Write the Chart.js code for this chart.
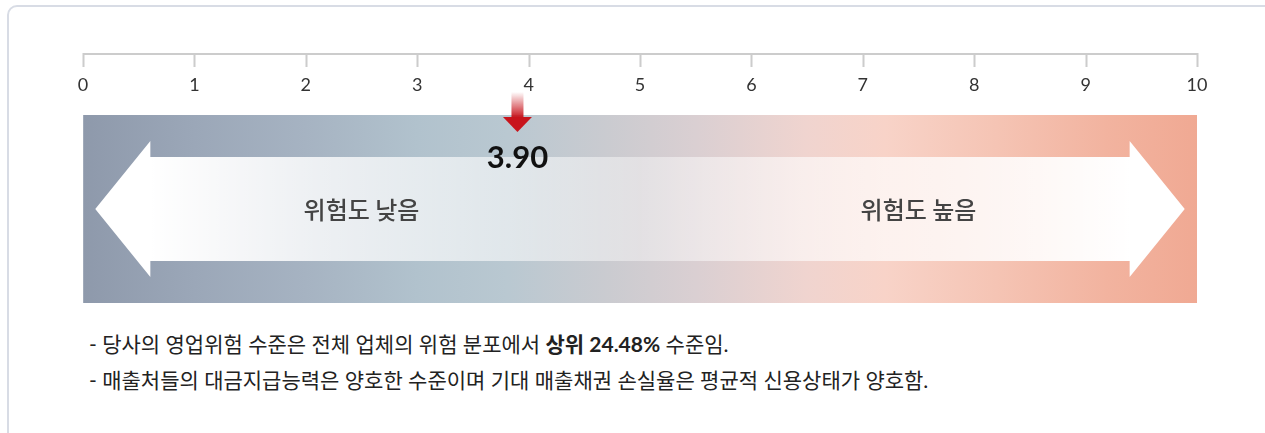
<!DOCTYPE html>
<html lang="ko">
<head>
<meta charset="UTF-8">
<title>위험도</title>
<script src="https://cdn.jsdelivr.net/npm/chart.js"></script>
<style>
    body { margin: 0; width: 1265px; height: 433px; overflow: hidden; background: #fff; position: relative; }
    .card {
        position: absolute; left: 7px; top: 5px; width: 1300px; height: 500px;
        border: 2px solid #d8dce5; border-radius: 10px; box-sizing: border-box;
    }
    .grafico { position: absolute; left: 0; top: 0; width: 1265px; height: 320px; }
    .notas {
        position: absolute; left: 89px; top: 326px; margin: 0; padding: 0; list-style: none;
        font-family: Lato, "Noto Sans CJK KR", sans-serif; font-size: 21px; color: #222;
        line-height: 36px;
    }
    .notas b { font-weight: 700; }
</style>
</head>
<body>
<div class="card"></div>
<div class="grafico"><canvas id="myCanvas" width="1265" height="320"></canvas></div>
<ul class="notas" id="notas"></ul>

<script>
    // dados do gráfico
    const tickValues = [0, 1, 2, 3, 4, 5, 6, 7, 8, 9, 10];
    const faixa = [0, 10];
    const score = 3.90;
    const rotulosLados = ['위험도 낮음', '위험도 높음'];
    const notas = [
        '- 당사의 영업위험 수준은 전체 업체의 위험 분포에서 <b>상위 24.48%</b> 수준임.',
        '- 매출처들의 대금지급능력은 양호한 수준이며 기대 매출채권 손실율은 평균적 신용상태가 양호함.'
    ];

    document.getElementById('notas').innerHTML = notas.map(n => '<li>' + n + '</li>').join('');

    function gradienteFaixa(context) {
        const area = context.chart.chartArea;
        if (!area) return '#c8ccd2';
        const g = context.chart.ctx.createLinearGradient(area.left, 0, area.right, 0);
        g.addColorStop(0, '#8e99ab');
        g.addColorStop(0.1, '#9ba7b8');
        g.addColorStop(0.2, '#a6b3c2');
        g.addColorStop(0.3, '#b1c2cd');
        g.addColorStop(0.38, '#b9c8d1');
        g.addColorStop(0.47, '#cacbd0');
        g.addColorStop(0.55, '#dacfd2');
        g.addColorStop(0.65, '#f0d4cf');
        g.addColorStop(0.72, '#f8d3c8');
        g.addColorStop(0.82, '#f5c4b4');
        g.addColorStop(0.92, '#f2b39f');
        g.addColorStop(1, '#f0a993');
        return g;
    }

    // setas, textos, marcador e linha do eixo
    const decoracao = {
        id: 'decoracao',
        afterDraw(chart) {
            const ctx = chart.ctx;
            const x = chart.scales.x;
            const area = chart.chartArea;
            const cy = (area.top + area.bottom) / 2;

            // linha do eixo com ticks
            ctx.save();
            ctx.strokeStyle = '#cccccc';
            ctx.lineWidth = 2;
            ctx.beginPath();
            ctx.moveTo(x.getPixelForValue(faixa[0]), 54);
            ctx.lineTo(x.getPixelForValue(faixa[1]), 54);
            tickValues.forEach(v => {
                const px = Math.round(x.getPixelForValue(v)) + 0.5;
                ctx.moveTo(px, 53);
                ctx.lineTo(px, 67);
            });
            ctx.stroke();

            // seta dupla
            const tipL = x.getPixelForValue(0.11), baseL = x.getPixelForValue(0.6);
            const baseR = x.getPixelForValue(9.4), tipR = x.getPixelForValue(9.89);
            const g = ctx.createLinearGradient(baseL, 0, baseR, 0);
            g.addColorStop(0, 'rgba(255,255,255,1)');
            g.addColorStop(0.05, 'rgba(255,255,255,0.95)');
            g.addColorStop(0.5, 'rgba(255,255,255,0.4)');
            g.addColorStop(0.95, 'rgba(255,255,255,0.95)');
            g.addColorStop(1, 'rgba(255,255,255,1)');
            ctx.fillStyle = g;
            ctx.fillRect(baseL, cy - 52, baseR - baseL, 104);
            ctx.fillStyle = '#ffffff';
            ctx.beginPath();
            ctx.moveTo(tipL, cy);
            ctx.lineTo(baseL + 0.5, cy - 68);
            ctx.lineTo(baseL + 0.5, cy + 68);
            ctx.closePath();
            ctx.moveTo(tipR, cy);
            ctx.lineTo(baseR - 0.5, cy - 68);
            ctx.lineTo(baseR - 0.5, cy + 68);
            ctx.closePath();
            ctx.fill();

            // textos das setas
            ctx.fillStyle = '#444444';
            ctx.font = '500 24px "Noto Sans CJK KR", sans-serif';
            ctx.textAlign = 'center';
            ctx.textBaseline = 'middle';
            ctx.fillText(rotulosLados[0], x.getPixelForValue(2.5), cy + 1);
            ctx.fillText(rotulosLados[1], x.getPixelForValue(7.5), cy + 1);

            // marcador do score
            const sx = x.getPixelForValue(score);
            const sg = ctx.createLinearGradient(0, 92, 0, 118);
            sg.addColorStop(0, 'rgba(200,20,28,0)');
            sg.addColorStop(1, 'rgba(200,20,28,1)');
            ctx.fillStyle = sg;
            ctx.fillRect(sx - 6, 92, 12, 26);
            ctx.fillStyle = '#c8141c';
            ctx.beginPath();
            ctx.moveTo(sx - 14.5, 117);
            ctx.lineTo(sx + 14.5, 117);
            ctx.lineTo(sx, 132);
            ctx.closePath();
            ctx.fill();

            ctx.fillStyle = '#111111';
            ctx.font = 'bold 31px Lato, sans-serif';
            ctx.fillText(score.toFixed(2), sx, 158);
            ctx.restore();
        }
    };

    const config = {
        type: 'bar',
        data: {
            labels: ['위험도'],
            datasets: [{
                data: [faixa],
                backgroundColor: gradienteFaixa,
                borderWidth: 0,
                borderSkipped: false,
                barPercentage: 1,
                categoryPercentage: 1
            }]
        },
        options: {
            indexAxis: 'y',
            responsive: false,
            animation: false,
            layout: { padding: { left: 83, right: 68, top: 0, bottom: 17 } },
            scales: {
                x: {
                    type: 'linear',
                    position: 'top',
                    min: 0,
                    max: 10,
                    z: 1,
                    afterFit: function (scale) { scale.height = 115; },
                    ticks: {
                        stepSize: 1,
                        padding: 19,
                        color: '#333333',
                        font: { family: 'Lato', size: 18 }
                    },
                    grid: {
                        drawTicks: false,
                        lineWidth: 1,
                        color: function (c) {
                            const v = c.tick ? c.tick.value : 0;
                            return (v === faixa[0] || v === faixa[1]) ? 'rgba(0,0,0,0)' : 'rgba(255,255,255,0.6)';
                        }
                    },
                    border: { display: false, dash: [5, 4] }
                },
                y: { display: false }
            },
            plugins: {
                legend: { display: false },
                tooltip: { enabled: false }
            }
        },
        plugins: [decoracao]
    };

    const myChart = new Chart(document.getElementById('myCanvas'), config);
</script>
</body>
</html>
